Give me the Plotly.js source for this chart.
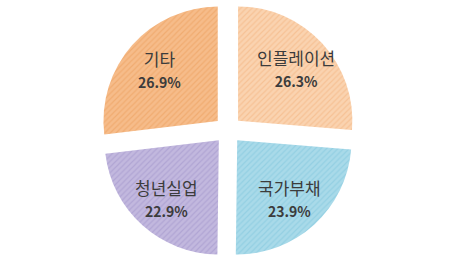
<!DOCTYPE html>
<html>
<head>
<meta charset="utf-8">
<script src="https://cdn.plot.ly/plotly-3.0.1.min.js"></script>
<style>html,body{margin:0;padding:0;background:#fff;}#chart{width:456px;height:262px;}</style>
</head>
<body>
<div id="chart"></div>
<script>
const labels = ["인플레이션", "국가부채", "청년실업", "기타"];
const values = [26.3, 23.9, 22.9, 26.9];
const bgColors = ["#FAD3B0", "#A9DAE9", "#C2B8DE", "#F6BC8A"];
const lineColors = ["#F2B07A", "#7EC4DB", "#9E91C8", "#EA9C58"];

const W = 456, H = 262;
const M = {l: 0, r: 0, t: 2, b: 4};
const PULL = 0.12;

const trace = {
  type: "pie",
  labels: labels,
  values: values,
  sort: false,
  direction: "clockwise",
  rotation: 0,
  pull: labels.map(() => PULL),
  textinfo: "none",
  marker: {
    colors: bgColors,
    line: {width: 0},
    pattern: {shape: "/", fgcolor: lineColors, bgcolor: bgColors, size: 4, solidity: 0.3, fillmode: "overlay"}
  },
  domain: {x: [0, 1], y: [0, 1]},
  showlegend: false,
  hoverinfo: "none"
};

// Label annotations placed along each slice's bisector (computed from the values)
const total = values.reduce((a, b) => a + b, 0);
const plotW = W - M.l - M.r, plotH = H - M.t - M.b;
const cx = plotW / 2, cy = plotH / 2;
const textR = 92;
let cum = 0;
const annotations = labels.map((lab, i) => {
  const frac = values[i] / total;
  const mid = (cum + frac / 2) * 2 * Math.PI;
  cum += frac;
  const px = cx + textR * Math.sin(mid);
  const py = cy - textR * Math.cos(mid);
  const pct = (frac * 100).toFixed(1) + "%";
  return {
    xref: "paper", yref: "paper",
    x: px / plotW, y: 1 - py / plotH,
    xanchor: "center", yanchor: "middle",
    showarrow: false,
    text: lab + "<br><span style='font-size:14px;font-weight:bold'>" + pct + "</span>",
    font: {family: "Noto Sans CJK KR", size: 17, color: "#3c3c3c"},
    align: "center"
  };
});

const layout = {
  width: W,
  height: H,
  margin: M,
  paper_bgcolor: "#ffffff",
  plot_bgcolor: "#ffffff",
  showlegend: false,
  annotations: annotations
};

Plotly.newPlot("chart", [trace], layout, {displayModeBar: false, staticPlot: true});
</script>
</body>
</html>
